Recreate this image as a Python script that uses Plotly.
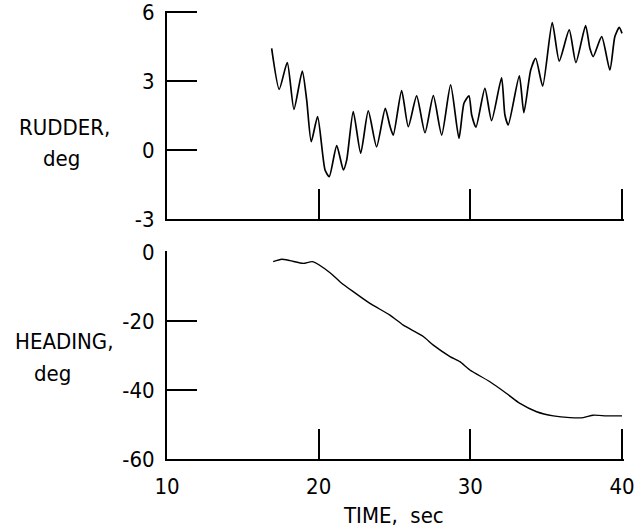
import plotly.graph_objects as go

# Rudder trace (time s, deg)
rudder_t = [16.90, 17.40, 17.93, 18.37, 18.92, 19.21, 19.51, 19.93, 20.42, 20.70, 21.19, 21.63, 21.85,
            22.28, 22.77, 23.27, 23.82, 24.39, 24.70, 24.92, 25.47, 25.91, 26.46, 27.01, 27.56, 28.11,
            28.70, 29.25, 29.58, 29.91, 30.09, 30.37, 30.96, 31.40, 32.06, 32.28, 32.50, 33.23, 33.53,
            33.98, 34.31, 34.77, 35.40, 35.86, 36.52, 36.96, 37.60, 37.88, 38.10, 38.66, 39.20, 39.53,
            39.82, 40.00]
rudder_v = [4.42, 2.64, 3.80, 1.77, 3.43, 2.17, 0.36, 1.45, -0.87, -1.16, 0.19, -0.87, -0.43,
            1.67, -0.14, 1.70, 0.14, 1.81, 1.04, 0.65, 2.58, 1.01, 2.35, 0.75, 2.36, 0.65,
            2.83, 0.51, 2.03, 2.35, 1.52, 0.99, 2.68, 1.28, 3.14, 1.52, 1.09, 3.22, 1.62,
            3.48, 3.99, 2.78, 5.54, 3.87, 5.22, 3.80, 5.41, 4.42, 4.06, 4.93, 3.48, 4.93,
            5.33, 5.07]

# Heading trace (time s, deg)
heading_t = [17.0, 17.56, 18.11, 18.99, 19.6, 20.75, 21.4, 22.28, 23.38, 24.70, 25.58, 26.9, 27.56,
             28.66, 29.31, 29.97, 31.29, 32.39, 33.27, 34.37, 35.47, 36.57, 37.45, 38.1, 38.99, 40.0]
heading_v = [-2.8, -2.1, -2.5, -3.3, -2.8, -6.0, -8.6, -11.5, -14.9, -18.3, -21.2, -24.5, -27.0,
             -30.3, -31.8, -34.2, -37.6, -41.0, -43.9, -46.3, -47.5, -48.0, -48.0, -47.3, -47.5, -47.5]

x_ticks = [10, 20, 30, 40]
x_ticktext = ["10", "20", "30", "40"]
rudder_ticks = [-3, 0, 3, 6]
rudder_ticktext = ["-3", "0", "3", "6"]
heading_ticks = [-60, -40, -20, 0]
heading_ticktext = ["-60", "-40", "-20", "0"]

FONT = "DejaVu Sans Condensed, sans-serif"
W, H = 643, 531

# pixel mapping (page px) — ranges padded slightly so end ticks are drawn
X0PX, X40PX = 167, 622
xpu = (X40PX - X0PX) / 30.0
x_hi = 40.1
x_dom = [X0PX / W, (X0PX + (x_hi - 10) * xpu) / W]

R_TOP, R_BOT = 12, 219
rpu = (R_BOT - R_TOP) / 9.0
r_hi = 6.05
r_dom = [(H - R_BOT) / H, (H - (R_BOT - (r_hi + 3) * rpu)) / H]

H_TOP, H_BOT = 252, 459
hpu = (H_BOT - H_TOP) / 60.0
h_hi = 0.25
h_dom = [(H - H_BOT) / H, (H - (H_BOT - (h_hi + 60) * hpu)) / H]

fig = go.Figure()
fig.add_trace(go.Scatter(x=rudder_t, y=rudder_v, mode="lines", line=dict(color="black", width=1.7, shape="spline", smoothing=0.6),
                         xaxis="x", yaxis="y", showlegend=False, hoverinfo="skip"))
fig.add_trace(go.Scatter(x=heading_t, y=heading_v, mode="lines", line=dict(color="black", width=1.4, shape="spline", smoothing=0.6),
                         xaxis="x2", yaxis="y2", showlegend=False, hoverinfo="skip"))

ax_common = dict(showline=True, linecolor="black", linewidth=2, ticks="inside", ticklen=30, tickwidth=2,
                 tickcolor="black", showgrid=False, zeroline=False, mirror=False, automargin=False,
                 ticklabeloverflow="allow",
                 tickfont=dict(family=FONT, size=22, color="black"))

fig.update_layout(
    width=W, height=H, margin=dict(l=0, r=0, t=0, b=0, autoexpand=False),
    paper_bgcolor="white", plot_bgcolor="white",
    xaxis=dict(domain=x_dom, range=[10, x_hi], anchor="y", tickvals=x_ticks, ticktext=x_ticktext,
               showticklabels=False, **ax_common),
    yaxis=dict(domain=r_dom, range=[-3, r_hi], anchor="x",
               tickvals=rudder_ticks, ticktext=rudder_ticktext, ticklabelstandoff=6, **ax_common),
    xaxis2=dict(domain=x_dom, range=[10, x_hi], anchor="y2", tickvals=x_ticks, ticktext=x_ticktext,
                ticklabelstandoff=7, **ax_common),
    yaxis2=dict(domain=h_dom, range=[-60, h_hi], anchor="x2",
                tickvals=heading_ticks, ticktext=heading_ticktext, ticklabelstandoff=6, **ax_common),
)

def label(text, x, y):
    fig.add_annotation(text=text, x=x / W, y=1 - y / H, xref="paper", yref="paper", showarrow=False,
                       xanchor="center", yanchor="middle", font=dict(family=FONT, size=22, color="black"))

label("RUDDER,", 64, 128)
label("deg", 61, 158)
label("HEADING,", 64, 341)
label("deg", 52, 373)
label("TIME,  sec", 393, 515)

fig.write_html("out.html", config={"displayModeBar": False, "staticPlot": True},
               post_script="document.body.style.margin='0px';document.body.style.overflow='hidden';")
